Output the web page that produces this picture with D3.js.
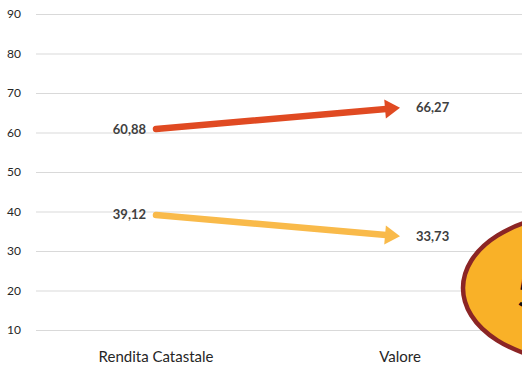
<!DOCTYPE html>
<html>
<head>
<meta charset="utf-8">
<script src="https://cdn.jsdelivr.net/npm/d3@7"></script>
<style>
  html, body { margin: 0; padding: 0; background: #fff; }
  svg { display: block; }
</style>
</head>
<body>
<svg id="chart" width="522" height="374"></svg>
<script>
const categories = ["Rendita Catastale", "Valore"];
const seriesNames = ["Quota A", "Quota B"];
const seriesA = [60.88, 66.27];
const seriesB = [39.12, 33.73];
const labelsA = ["60,88", "66,27"];
const labelsB = ["39,12", "33,73"];
const yTicks = [10, 20, 30, 40, 50, 60, 70, 80, 90];
const badgeText = "5";

const W = 522, H = 374;
const svg = d3.select("#chart");
const font = "Lato, 'Open Sans', sans-serif";

const x = d3.scalePoint().domain(categories).range([156, 400]);
const y = d3.scaleLinear().domain([10, 90]).range([330, 14]);

// gridlines
const yAxis = d3.axisLeft(y).tickValues(yTicks).tickSize(-(W - 36)).tickFormat(d3.format("d"));
const gAxis = svg.append("g").attr("transform", "translate(36,0)").call(yAxis);
gAxis.select(".domain").remove();
gAxis.selectAll(".tick line").attr("stroke", "#d9d9d9").attr("stroke-width", 1);
gAxis.selectAll(".tick text")
  .attr("x", -15).attr("text-anchor", "end")
  .attr("fill", "#262626")
  .style("font-family", font).style("font-size", "12px");

// category labels
svg.append("g").selectAll("text").data(categories).join("text")
  .attr("x", d => x(d)).attr("y", 362)
  .attr("text-anchor", "middle")
  .attr("fill", "#262626")
  .style("font-family", font).style("font-size", "15px")
  .text(d => d);

const series = [
  { vals: seriesA, labels: labelsA, color: "#E04A22" },
  { vals: seriesB, labels: labelsB, color: "#F9BA4A" }
];

series.forEach(s => {
  const x0 = x(categories[0]), y0 = y(s.vals[0]);
  const x1 = x(categories[1]), y1 = y(s.vals[1]);
  const ang = Math.atan2(y1 - y0, x1 - x0);
  const headLen = 15, headHalf = 9.5;
  const bx = x1 - headLen * Math.cos(ang), by = y1 - headLen * Math.sin(ang);
  svg.append("line")
    .attr("x1", x0).attr("y1", y0).attr("x2", bx + Math.cos(ang)).attr("y2", by + Math.sin(ang))
    .attr("stroke", s.color).attr("stroke-width", 6.5).attr("stroke-linecap", "round");
  const px = -Math.sin(ang), py = Math.cos(ang);
  svg.append("path")
    .attr("d", `M${x1},${y1}L${bx + px * headHalf},${by + py * headHalf}L${bx - px * headHalf},${by - py * headHalf}Z`)
    .attr("fill", s.color);
  svg.append("text")
    .attr("x", x0 - 10).attr("y", y0 + 4.5)
    .attr("text-anchor", "end").attr("fill", "#404040")
    .style("font-family", font).style("font-size", "13px").style("font-weight", "bold")
    .text(s.labels[0]);
  svg.append("text")
    .attr("x", x1 + 16).attr("y", y1 + 4.5)
    .attr("text-anchor", "start").attr("fill", "#404040")
    .style("font-family", font).style("font-size", "13px").style("font-weight", "bold")
    .text(s.labels[1]);
});

// badge ellipse (partly outside the frame, as in the reference)
svg.append("ellipse")
  .attr("cx", 580).attr("cy", 288).attr("rx", 117).attr("ry", 74)
  .attr("fill", "#F9B128").attr("stroke", "#8B2525").attr("stroke-width", 4.5);
svg.append("text")
  .attr("x", 516).attr("y", 308)
  .attr("fill", "#111")
  .style("font-family", font).style("font-size", "46px")
  .text(badgeText);
</script>
</body>
</html>
